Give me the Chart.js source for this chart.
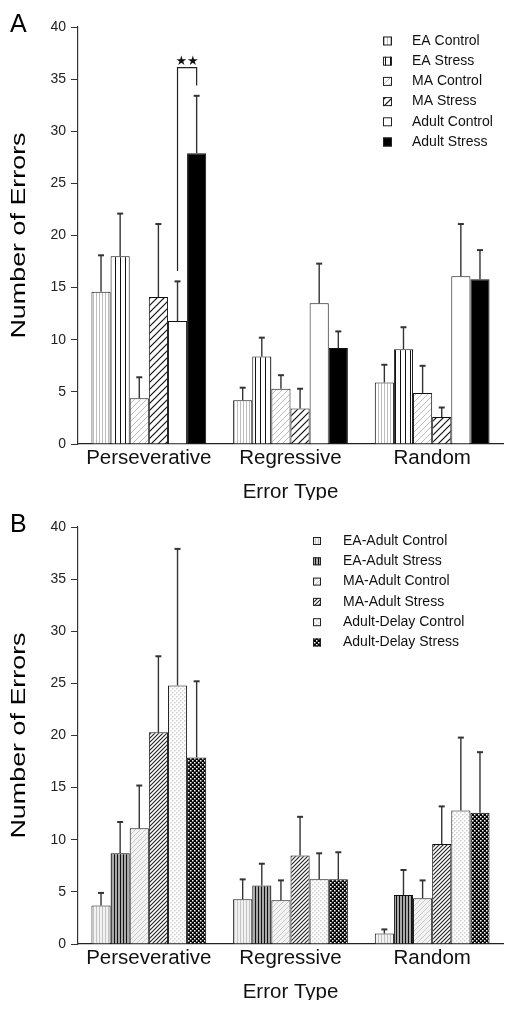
<!DOCTYPE html>
<html>
<head>
<meta charset="utf-8">
<script src="https://cdn.jsdelivr.net/npm/chart.js@4.4.1/dist/chart.umd.min.js"></script>
<style>
    html, body { margin: 0; padding: 0; background: #fff; overflow: hidden; }
    .panel { position: absolute; left: 0; width: 514px; height: 500px; }
</style>
</head>
<body>
<div class="panel" style="top:0"><canvas id="panelA" width="514" height="500"></canvas></div>
<div class="panel" style="top:500px"><canvas id="panelB" width="514" height="500"></canvas></div>
<script>
// -------------------------------------------------------------------------------------------------------------------------------
// Data
// -------------------------------------------------------------------------------------------------------------------------------

const categories = ['Perseverative', 'Regressive', 'Random'];
const yMin = 0;
const yMax = 40;
const yStep = 5;

// Panel A
const seriesA = ['EA Control', 'EA Stress', 'MA Control', 'MA Stress', 'Adult Control', 'Adult Stress'];
const eaControlA = [14.6, 4.2, 5.9];
const eaStressA = [18.0, 8.4, 9.1];
const maControlA = [4.4, 5.3, 4.9];
const maStressA = [14.1, 3.4, 2.6];
const adultControlA = [11.8, 13.5, 16.1];
const adultStressA = [27.9, 9.2, 15.8];
const eaControlSemA = [3.5, 1.2, 1.7];
const eaStressSemA = [4.1, 1.8, 2.1];
const maControlSemA = [2.0, 1.3, 2.6];
const maStressSemA = [7.0, 1.9, 0.9];
const adultControlSemA = [3.8, 3.8, 5.0];
const adultStressSemA = [5.5, 1.6, 2.8];
// significance bracket between Adult Control and Adult Stress (Perseverative)
const bracketA = { category: 0, from: 4, to: 5, leftEnd: 16.6, top: 36.1, rightEnd: 34.4, label: '★★' };

// Panel B
const seriesB = ['EA-Adult Control', 'EA-Adult Stress', 'MA-Adult Control', 'MA-Adult Stress', 'Adult-Delay Control', 'Adult-Delay Stress'];
const eaControlB = [3.7, 4.3, 1.0];
const eaStressB = [8.7, 5.6, 4.7];
const maControlB = [11.1, 4.2, 4.4];
const maStressB = [20.3, 8.5, 9.6];
const delayControlB = [24.8, 6.2, 12.8];
const delayStressB = [17.9, 6.2, 12.6];
const eaControlSemB = [1.2, 1.9, 0.4];
const eaStressSemB = [3.0, 2.1, 2.4];
const maControlSemB = [4.1, 1.9, 1.7];
const maStressSemB = [7.3, 3.7, 3.6];
const delayControlSemB = [13.1, 2.5, 7.0];
const delayStressSemB = [7.3, 2.6, 5.8];

// -------------------------------------------------------------------------------------------------------------------------------
// Patterns
// -------------------------------------------------------------------------------------------------------------------------------

const FONT = '"Liberation Sans", Arial, Helvetica, sans-serif';

function makePattern(size, bg, draw) {
    const c = document.createElement('canvas');
    c.width = size;
    c.height = size;
    const g = c.getContext('2d');
    g.fillStyle = bg;
    g.fillRect(0, 0, size, size);
    if (draw) draw(g, size);
    return g.createPattern(c, 'repeat');
}

function vLines(color, width) {
    return (g, s) => { g.fillStyle = color; g.fillRect(0, 0, width, s); };
}

function diagLines(color, width) {
    return (g, s) => {
        g.strokeStyle = color;
        g.lineWidth = width;
        g.beginPath();
        g.moveTo(-1, s + 1); g.lineTo(s + 1, -1);
        g.moveTo(-1, 1); g.lineTo(1, -1);
        g.moveTo(s - 1, s + 1); g.lineTo(s + 1, s - 1);
        g.stroke();
    };
}

function dots(color, checker) {
    return (g, s) => {
        g.fillStyle = color;
        g.fillRect(0, 0, 1.5, 1.5);
        if (checker) g.fillRect(s / 2, s / 2, 1.5, 1.5);
    };
}

const fillsA = [
    makePattern(3, '#fff', vLines('#bdbdbd', 1)),
    makePattern(5, '#fff', vLines('#111', 1)),
    makePattern(6, '#fff', diagLines('#bdbdbd', 1)),
    makePattern(7, '#fff', diagLines('#111', 1.2)),
    '#fff',
    '#000'
];

const fillsB = [
    makePattern(3, '#f1f1f1', vLines('#c4c4c4', 1)),
    makePattern(3, '#a8a8a8', vLines('#111', 1)),
    makePattern(5, '#f3f3f3', diagLines('#c8c8c8', 1)),
    makePattern(4, '#fff', diagLines('#222', 1.1)),
    makePattern(4, '#fff', dots('#cfcfcf', true)),
    makePattern(4, '#000', dots('#fff', true))
];

// -------------------------------------------------------------------------------------------------------------------------------
// Plugin - error bars, legend, titles, bracket
// -------------------------------------------------------------------------------------------------------------------------------

const overlay = {
    id: 'overlay',
    afterDatasetsDraw(chart, args, opts) {
        const ctx = chart.ctx;
        const y = chart.scales.y;
        const area = chart.chartArea;

        ctx.save();
        // error bars
        ctx.strokeStyle = '#333';
        chart.data.datasets.forEach((ds, i) => {
            chart.getDatasetMeta(i).data.forEach((bar, j) => {
                const top = y.getPixelForValue(ds.data[j] + ds.sem[j]);
                ctx.lineWidth = 1.4;
                ctx.beginPath();
                ctx.moveTo(bar.x, bar.y);
                ctx.lineTo(bar.x, top);
                ctx.stroke();
                ctx.lineWidth = 2;
                ctx.beginPath();
                ctx.moveTo(bar.x - 3, top);
                ctx.lineTo(bar.x + 3, top);
                ctx.stroke();
            });
        });

        // significance bracket
        if (opts.bracket) {
            const b = opts.bracket;
            const x1 = chart.getDatasetMeta(b.from).data[b.category].x;
            const x2 = chart.getDatasetMeta(b.to).data[b.category].x;
            const yt = y.getPixelForValue(b.top);
            ctx.strokeStyle = '#222';
            ctx.lineWidth = 1.2;
            ctx.beginPath();
            ctx.moveTo(x1, y.getPixelForValue(b.leftEnd));
            ctx.lineTo(x1, yt);
            ctx.lineTo(x2, yt);
            ctx.lineTo(x2, y.getPixelForValue(b.rightEnd));
            ctx.stroke();
            ctx.fillStyle = '#111';
            ctx.font = '13px "DejaVu Sans", sans-serif';
            ctx.textAlign = 'center';
            ctx.textBaseline = 'bottom';
            ctx.fillText(b.label, (x1 + x2) / 2, yt);
        }

        // legend
        const lg = opts.legend;
        ctx.font = lg.fontSize + 'px ' + FONT;
        ctx.textAlign = 'left';
        ctx.textBaseline = 'middle';
        chart.data.datasets.forEach((ds, i) => {
            const cy = lg.top + i * lg.step;
            ctx.fillStyle = ds.backgroundColor;
            ctx.fillRect(lg.boxX, cy - lg.box / 2, lg.box, lg.box);
            ctx.strokeStyle = '#222';
            ctx.lineWidth = 1;
            ctx.strokeRect(lg.boxX + 0.5, cy - lg.box / 2 + 0.5, lg.box - 1, lg.box - 1);
            ctx.fillStyle = '#111';
            ctx.fillText(ds.label, lg.textX, cy);
        });

        // panel letter
        ctx.font = '25px ' + FONT;
        ctx.textBaseline = 'alphabetic';
        ctx.fillStyle = '#000';
        ctx.fillText(opts.letter, 10, 32);

        // y axis title
        ctx.translate(19, (area.top + area.bottom) / 2);
        ctx.rotate(-Math.PI / 2);
        ctx.scale(1.28, 1);
        ctx.textAlign = 'center';
        ctx.textBaseline = 'middle';
        ctx.font = '21px ' + FONT;
        ctx.fillText('Number of Errors', 0, 0);
        ctx.restore();
    }
};

// -------------------------------------------------------------------------------------------------------------------------------
// Charts
// -------------------------------------------------------------------------------------------------------------------------------

function buildDatasets(labels, values, sems, fills) {
    return labels.map((label, i) => ({
        label: label,
        data: values[i],
        sem: sems[i],
        backgroundColor: fills[i],
        borderColor: '#111',
        borderWidth: 1,
        categoryPercentage: 0.81,
        barPercentage: 1
    }));
}

function buildChart(id, datasets, letter, legend, bracket) {
    return new Chart(document.getElementById(id), {
        type: 'bar',
        data: { labels: categories, datasets: datasets },
        options: {
            responsive: false,
            animation: false,
            devicePixelRatio: 1,
            layout: { padding: { left: 0, right: 11, top: 27, bottom: 0 } },
            plugins: {
                legend: { display: false },
                tooltip: { enabled: false },
                overlay: { letter: letter, legend: legend, bracket: bracket }
            },
            scales: {
                x: {
                    grid: { display: false },
                    border: { display: true, color: '#222', width: 1.2 },
                    ticks: { color: '#111', padding: -6, font: { family: FONT, size: 20.5 } },
                    title: {
                        display: true,
                        text: 'Error Type',
                        color: '#111',
                        padding: { top: 0, bottom: -3 },
                        font: { family: FONT, size: 20.5, lineHeight: 1 }
                    },
                    afterFit(scale) { scale.height = 56; }
                },
                y: {
                    min: yMin,
                    max: yMax,
                    grid: { display: true, drawOnChartArea: false, drawTicks: true, tickLength: 7, color: '#333' },
                    border: { display: true, color: '#333', width: 1.2 },
                    ticks: { stepSize: yStep, color: '#222', padding: 5, font: { family: FONT, size: 14 } },
                    afterFit(scale) { scale.width = 78; }
                }
            }
        },
        plugins: [overlay]
    });
}

buildChart(
    'panelA',
    buildDatasets(
        seriesA,
        [eaControlA, eaStressA, maControlA, maStressA, adultControlA, adultStressA],
        [eaControlSemA, eaStressSemA, maControlSemA, maStressSemA, adultControlSemA, adultStressSemA],
        fillsA
    ),
    'A',
    { boxX: 383, box: 9, textX: 412, top: 41, step: 20.2, fontSize: 14 },
    bracketA
);

buildChart(
    'panelB',
    buildDatasets(
        seriesB,
        [eaControlB, eaStressB, maControlB, maStressB, delayControlB, delayStressB],
        [eaControlSemB, eaStressSemB, maControlSemB, maStressSemB, delayControlSemB, delayStressSemB],
        fillsB
    ),
    'B',
    { boxX: 313, box: 8, textX: 343, top: 41, step: 20.3, fontSize: 14 },
    null
);
</script>
</body>
</html>
